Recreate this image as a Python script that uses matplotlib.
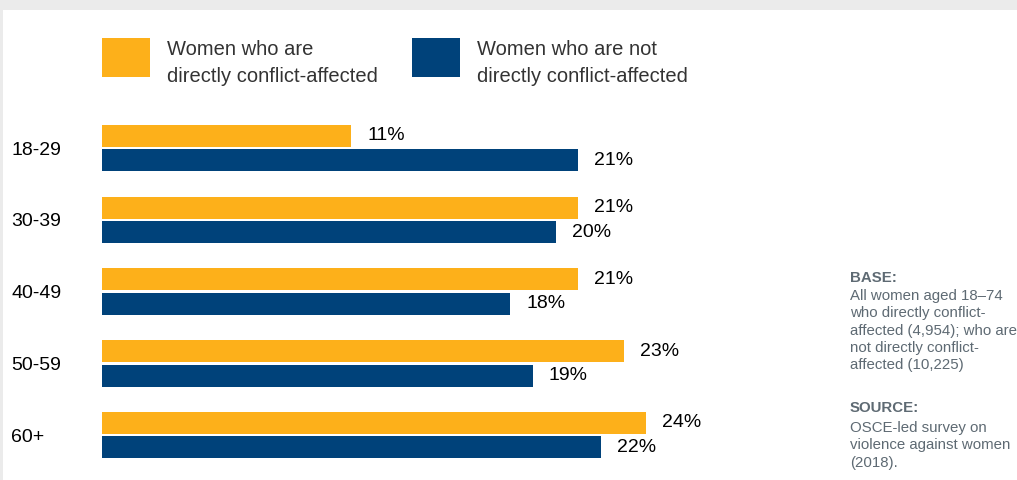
import matplotlib
matplotlib.use("Agg")
import matplotlib.pyplot as plt
from matplotlib.patches import Rectangle

plt.rcParams['font.family'] = ['Liberation Sans', 'DejaVu Sans']

# Data
age_groups = ["18-29", "30-39", "40-49", "50-59", "60+"]
affected = [11, 21, 21, 23, 24]
not_affected = [21, 20, 18, 19, 22]
series_names = ["Women who are\ndirectly conflict-affected",
                "Women who are not\ndirectly conflict-affected"]
base_note = ("All women aged 18\u201374\nwho directly conflict-\n"
             "affected (4,954); who are\nnot directly conflict-\naffected (10,225)")
source_note = "OSCE-led survey on\nviolence against women\n(2018)."

ORANGE = "#FDB01A"
BLUE = "#00427A"
NOTE_GREY = "#5E6A73"

W, H = 1017, 480
fig = plt.figure(figsize=(W / 100, H / 100), dpi=100)
fig.patch.set_facecolor("#EBEBEB")

# white panel framed by a thin grey border on the top and left
fig.add_artist(Rectangle((3 / W, 0), 1 - 3 / W, 1 - 10 / H, transform=fig.transFigure,
                         facecolor="white", edgecolor="none", zorder=0))

# plot area: x=0 at 102 px, 22.68 px per percentage point
x_left, x_scale, xmax = 102, 22.68, 30
top_px, bot_px = 112, 472
ax = fig.add_axes([x_left / W, 1 - bot_px / H, xmax * x_scale / W, (bot_px - top_px) / H])
ax.set_facecolor("none")
ax.set_xlim(0, xmax)
spacing = 71.8
ax.set_ylim((bot_px - 148) / spacing, (top_px - 148) / spacing)

ypos = list(range(len(age_groups)))
bh = 22 / spacing
off = 12.25 / spacing
ax.barh([y - off for y in ypos], affected, height=bh, color=ORANGE)
ax.barh([y + off for y in ypos], not_affected, height=bh, color=BLUE)

lab_off = 16 / x_scale
for y, a, n in zip(ypos, affected, not_affected):
    ax.text(a + lab_off, y - off, f"{a}%", va="center", ha="left", fontsize=14, color="black")
    ax.text(n + lab_off, y + off, f"{n}%", va="center", ha="left", fontsize=14, color="black")

ax.set_yticks(ypos)
ax.set_yticklabels(age_groups, fontsize=14, color="black")
for t in ax.get_yticklabels():
    t.set_horizontalalignment("left")
ax.tick_params(axis="y", length=0, pad=(x_left - 11) * 0.72)
ax.set_xticks([])
for s in ax.spines.values():
    s.set_visible(False)

# legend
for (x0, color, name) in [(102, ORANGE, series_names[0]), (412, BLUE, series_names[1])]:
    fig.add_artist(Rectangle((x0 / W, 1 - 77 / H), 48 / W, 39 / H, transform=fig.transFigure,
                             facecolor=color, edgecolor="none"))
    fig.text((x0 + 65) / W, 1 - 40 / H, name, ha="left", va="top", fontsize=14.5,
             color="#333333", linespacing=1.55)

# notes on the right
nx = 850 / W
fs = 10.8
fig.text(nx, 1 - 271 / H, "BASE:", ha="left", va="top", fontsize=fs, fontweight="bold", color=NOTE_GREY)
fig.text(nx, 1 - 289 / H, base_note, ha="left", va="top", fontsize=fs, color=NOTE_GREY, linespacing=1.3)
fig.text(nx, 1 - 401 / H, "SOURCE:", ha="left", va="top", fontsize=fs, fontweight="bold", color=NOTE_GREY)
fig.text(nx, 1 - 421 / H, source_note, ha="left", va="top", fontsize=fs, color=NOTE_GREY, linespacing=1.3)

fig.savefig("out.png", dpi=100, facecolor=fig.get_facecolor())
